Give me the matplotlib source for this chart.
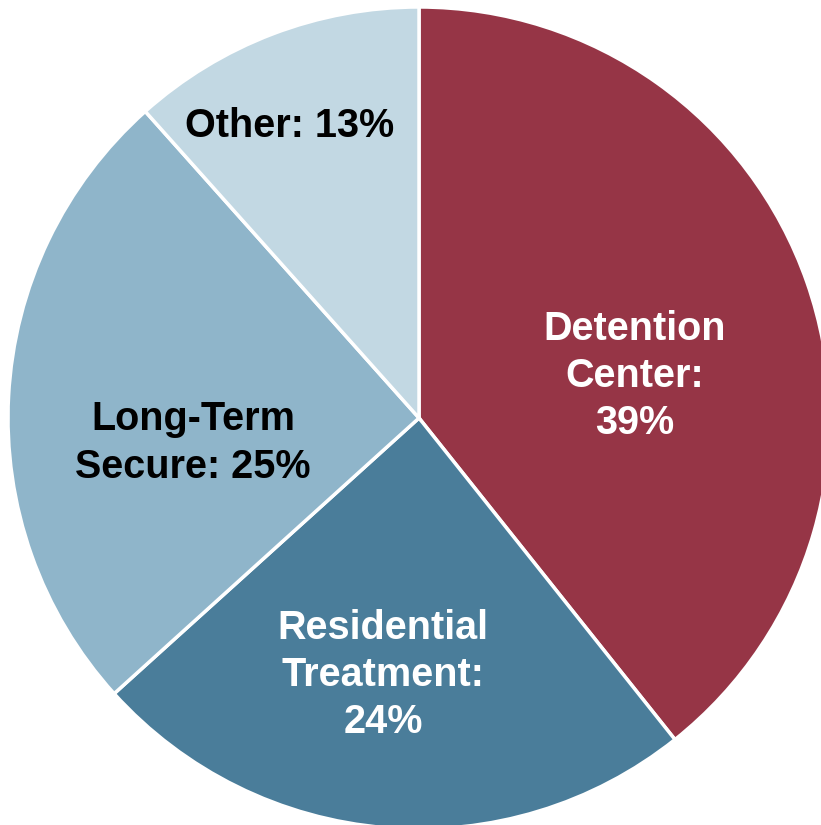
import matplotlib
matplotlib.use("Agg")
import matplotlib.pyplot as plt

categories = ["Detention Center", "Residential Treatment", "Long-Term Secure", "Other"]
slice_values = [39.3, 24.0, 25.1, 11.6]
label_texts = ["Detention\nCenter:\n39%", "Residential\nTreatment:\n24%",
               "Long-Term\nSecure: 25%", "Other: 13%"]
colors = ["#963546", "#4A7D9A", "#8FB5CA", "#C2D8E3"]
text_colors = ["white", "white", "black", "black"]

W, H = 821, 825
fig = plt.figure(figsize=(W / 100, H / 100), dpi=100)
ax = fig.add_axes([0, 0, 1, 1])
cx, cy, r = 419, H - 418, 411
ax.pie(slice_values, colors=colors, startangle=90, counterclock=False,
       center=(cx, cy), radius=r,
       wedgeprops=dict(edgecolor="white", linewidth=2.5))
ax.set_xlim(0, W)
ax.set_ylim(0, H)
ax.set_aspect("equal")
ax.axis("off")

label_pos = [(635, 376), (383, 675), (193, 443), (290, 126)]
for txt, (px, py), tc in zip(label_texts, label_pos, text_colors):
    ax.text(px, H - py, txt, ha="center", va="center", color=tc,
            fontsize=28.5, fontweight="bold", family="Liberation Sans",
            linespacing=1.3)

fig.savefig("out.png", dpi=100)
